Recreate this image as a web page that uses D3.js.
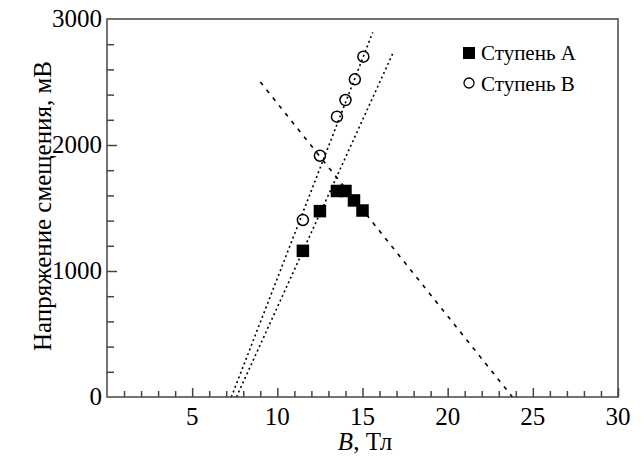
<!DOCTYPE html>
<html><head><meta charset="utf-8">
<script src="https://cdn.jsdelivr.net/npm/d3@7"></script>
<style>body{margin:0;background:#fff}svg{display:block}</style>
</head><body><svg id="c" width="644" height="459"></svg>
<script>
// Data
const stepA_B = [11.5, 12.5, 13.5, 14.0, 14.5, 15.0];
const stepA_V = [1160, 1475, 1635, 1635, 1560, 1480];
const stepB_B = [11.5, 12.5, 13.5, 14.0, 14.55, 15.05];
const stepB_V = [1405, 1915, 2225, 2357, 2521, 2701];
// fitted guide lines [B, V] endpoints
const lineB = [[7.3, 0], [15.6, 2894]];
const lineA = [[7.6, 0], [16.8, 2733]];
const lineDesc = [[9.0, 2500], [23.8, 0]];
const xTickLabels = [5, 10, 15, 20, 25, 30];
const yTickLabels = [0, 1000, 2000, 3000];
const legendLabels = ["Ступень A", "Ступень B"];

const W = 644, H = 459;
const m = {l: 107, r: 26, t: 19, b: 62};
const svg = d3.select("#c");
const x = d3.scaleLinear().domain([0, 30]).range([m.l, W - m.r]);
const y = d3.scaleLinear().domain([0, 3000]).range([H - m.b, m.t]);
const axisColor = "#444";
const FF = '"Liberation Serif"';

// guide lines
const lg = d3.line().x(d => x(d[0])).y(d => y(d[1]));
svg.append("path").attr("d", lg(lineB)).attr("fill", "none").attr("stroke", "#000").attr("stroke-width", 1.6).attr("stroke-dasharray", "2,3");
svg.append("path").attr("d", lg(lineA)).attr("fill", "none").attr("stroke", "#000").attr("stroke-width", 1.6).attr("stroke-dasharray", "2,3");
svg.append("path").attr("d", lg(lineDesc)).attr("fill", "none").attr("stroke", "#000").attr("stroke-width", 1.6).attr("stroke-dasharray", "4,6");

// axes with inward ticks
const xMinor = d3.range(1, 30).filter(v => v % 5 !== 0);
const xAxisMinor = d3.axisTop(x).tickValues(xMinor).tickSize(6).tickFormat("");
const xAxisMajor = d3.axisTop(x).tickValues(xTickLabels).tickSize(9).tickFormat("");
const gx1 = svg.append("g").attr("transform", `translate(0,${H - m.b})`).call(xAxisMinor);
const gx2 = svg.append("g").attr("transform", `translate(0,${H - m.b})`).call(xAxisMajor);
const yMinor = d3.range(200, 3000, 200).filter(v => v % 1000 !== 0);
const yAxisMinor = d3.axisRight(y).tickValues(yMinor).tickSize(7).tickFormat("");
const yAxisMajor = d3.axisRight(y).tickValues([1000, 2000]).tickSize(10).tickFormat("");
const gy1 = svg.append("g").attr("transform", `translate(${m.l},0)`).call(yAxisMinor);
const gy2 = svg.append("g").attr("transform", `translate(${m.l},0)`).call(yAxisMajor);
[gx1, gx2, gy1, gy2].forEach(g => {
  g.select(".domain").remove();
  g.selectAll("line").attr("stroke", axisColor).attr("stroke-width", 1.5);
});

// frame
svg.append("rect").attr("x", m.l).attr("y", m.t).attr("width", W - m.l - m.r).attr("height", H - m.t - m.b)
  .attr("fill", "none").attr("stroke", axisColor).attr("stroke-width", 1.5);

// tick labels
svg.append("g").selectAll("text").data(xTickLabels).join("text")
  .style("font-family", FF).style("font-size", "25px")
  .attr("x", d => x(d)).attr("y", H - m.b + 28).attr("text-anchor", "middle").text(d => d);
svg.append("g").selectAll("text").data(yTickLabels).join("text")
  .style("font-family", FF).style("font-size", "25px")
  .attr("x", m.l - 5).attr("y", d => y(d) + 8).attr("text-anchor", "end").text(d => d);

// axis titles
const xt = svg.append("text").style("font-family", FF).style("font-size", "25px")
  .attr("x", 365).attr("y", 450).attr("text-anchor", "middle");
xt.append("tspan").style("font-style", "italic").text("B");
xt.append("tspan").text(", Тл");
svg.append("text").style("font-family", FF).style("font-size", "25px")
  .attr("transform", "translate(51,206) rotate(-90)").attr("text-anchor", "middle")
  .text("Напряжение смещения, мВ");

// points
const A = stepA_B.map((b, i) => [b, stepA_V[i]]);
const B = stepB_B.map((b, i) => [b, stepB_V[i]]);
const s = 12.5;
svg.append("g").selectAll("rect").data(A).join("rect")
  .attr("x", d => x(d[0]) - s / 2).attr("y", d => y(d[1]) - s / 2).attr("width", s).attr("height", s).attr("fill", "#000");
svg.append("g").selectAll("circle").data(B).join("circle")
  .attr("cx", d => x(d[0])).attr("cy", d => y(d[1])).attr("r", 5.5).attr("fill", "none").attr("stroke", "#000").attr("stroke-width", 1.5);

// legend
const lgd = svg.append("g");
lgd.append("rect").attr("x", 463).attr("y", 47).attr("width", 12).attr("height", 12).attr("fill", "#000");
lgd.append("circle").attr("cx", 469).attr("cy", 83).attr("r", 5).attr("fill", "none").attr("stroke", "#000").attr("stroke-width", 1.3);
lgd.selectAll("text").data(legendLabels).join("text")
  .style("font-family", FF).style("font-size", "21px")
  .attr("x", 481).attr("y", (d, i) => 60 + i * 31).text(d => d);
</script></body></html>
